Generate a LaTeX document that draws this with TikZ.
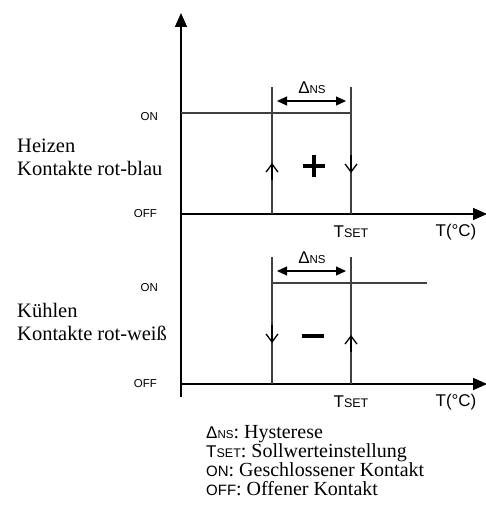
\documentclass[tikz,border=0pt]{standalone}
\usepackage{fontspec}
\setmainfont{Liberation Serif}
\setsansfont{Liberation Sans}
\usetikzlibrary{arrows.meta}

\newcommand{\dns}{{\sffamily\fontsize{17}{20}\selectfont Δ\fontsize{11.5}{13}\selectfont NS}}
\newcommand{\tset}{{\sffamily\fontsize{17}{20}\selectfont T\fontsize{12.5}{14}\selectfont SET}}

\begin{document}
\begin{tikzpicture}
    [x=1pt,y=-1pt,
      axis/.style={line width=1.6pt,-{Triangle[length=14pt,width=12pt]}},
      thin line/.style={line width=1.2pt,black!75},
      flip/.style={line width=1.3pt,-{Straight Barb[length=8pt,width=12pt]}},
      span/.style={line width=1.1pt,{Triangle[length=10pt,width=9pt]}-{Triangle[length=10pt,width=9pt]}},
      sign/.style={line width=4.2pt},
      state/.style={font=\sffamily\fontsize{11.5}{13}\selectfont,anchor=east,inner sep=0pt},
      unit/.style={font=\sffamily\fontsize{17}{20}\selectfont,inner sep=0pt},
      caption/.style={font=\fontsize{20.5}{23}\selectfont,align=left,anchor=west,inner sep=0pt}
    ]

    \useasboundingbox (0,0) rectangle (486,505);

    % axes
    \coordinate (origin) at (181,397);
    \coordinate (top) at (181,13);
    \draw [axis] (origin) -- (top);
    \draw [axis] (181,214) -- (487,214);
    \draw [axis] (181,384) -- (487,384);

    % heating
    \draw [thin line] (181,113) -- (351,113);
    \draw [thin line] (272,87) -- (272,214);
    \draw [thin line] (351,87) -- (351,214);
    \draw [flip] (272,180) -- (272,163);
    \draw [flip] (351,155) -- (351,173);
    \draw [span] (277,101) -- (346,101);
    \draw [sign] (303,166) -- (325,166) (314,155) -- (314,177);
    \node (heat delta) at (312,88) {\dns};
    \node (heat set) at (351,232) {\tset};
    \node [unit] (heat unit) at (456,232) {T(°C)};
    \node [state] (heat on) at (158,117) {ON};
    \node [state] (heat off) at (157,214) {OFF};
    \node [caption] (heat text) at (17,157) {Heizen\\Kontakte rot-blau};

    % cooling
    \draw [thin line] (272,283) -- (427,283);
    \draw [thin line] (272,257) -- (272,384);
    \draw [thin line] (351,257) -- (351,384);
    \draw [flip] (272,325) -- (272,343);
    \draw [flip] (351,352) -- (351,335);
    \draw [span] (277,271) -- (346,271);
    \draw [sign] (302,336) -- (324,336);
    \node (cool delta) at (312,258) {\dns};
    \node (cool set) at (351,402) {\tset};
    \node [unit] (cool unit) at (456,402) {T(°C)};
    \node [state] (cool on) at (158,288) {ON};
    \node [state] (cool off) at (157,384) {OFF};
    \node [caption] (cool text) at (17,322) {Kühlen\\Kontakte rot-weiß};

    % legend
    \node [caption,font=\fontsize{20}{19}\selectfont] (legend) at (206,461)
      {\dns: Hysterese\\
       \tset: Sollwerteinstellung\\
       {\sffamily\fontsize{15}{15}\selectfont ON}: Geschlossener Kontakt\\
       {\sffamily\fontsize{15}{15}\selectfont OFF}: Offener Kontakt};
  \end{tikzpicture}
\end{document}
